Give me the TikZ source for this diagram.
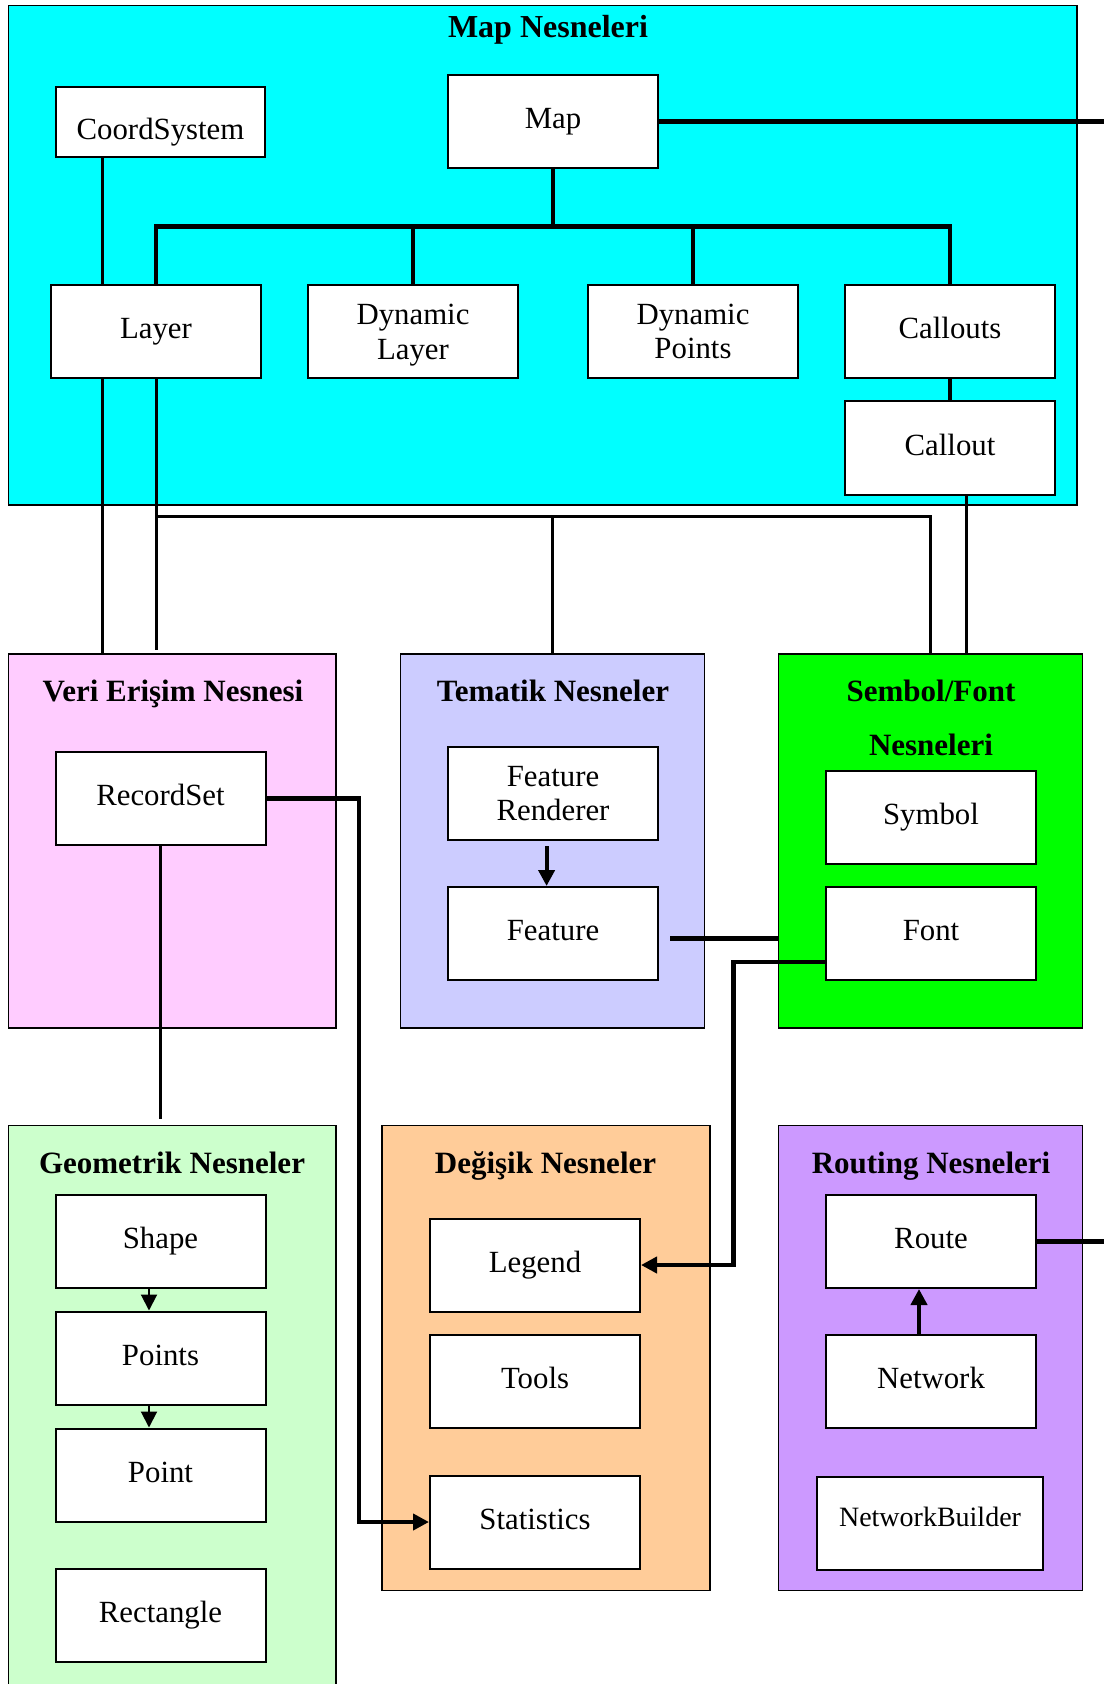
\documentclass[tikz,border=0pt]{standalone}
\usepackage{fontspec}
\setmainfont{Liberation Serif}
\usetikzlibrary{arrows.meta}
\pgfdeclarelayer{back}
\pgfdeclarelayer{conn}
\pgfsetlayers{back,conn,main}
\definecolor{mapc}{HTML}{00FFFF}
\definecolor{veric}{HTML}{FFCCFF}
\definecolor{temc}{HTML}{CCCCFF}
\definecolor{semc}{HTML}{00FF00}
\definecolor{geoc}{HTML}{CCFFCC}
\definecolor{degc}{HTML}{FFCC99}
\definecolor{rouc}{HTML}{CC99FF}
\begin{document}
\begin{tikzpicture}[x=0.5pt,y=-0.5pt,
  box/.style={draw, line width=1pt, fill=white, minimum width=105pt, minimum height=46.5pt,
    align=center, inner sep=0pt, font=\fontsize{15.4}{17.35}\selectfont},
  one/.style={box, text height=10.3pt, text depth=3.3pt},
  grp/.style={draw, line width=0.85pt, inner sep=0pt},
  ttl/.style={font=\fontsize{15.5}{18}\selectfont\bfseries, inner sep=0pt, anchor=base},
  tree/.style={line width=2.4pt},
  thk/.style={line width=2.1pt},
  link/.style={line width=1.5pt},
  slim/.style={line width=1pt},
  arr/.style={-{Triangle[length=8pt,width=8pt]}}]
\useasboundingbox (0,0) rectangle (1104,1684);

% containers
\begin{pgfonlayer}{back}
\fill[white] (0,0) rectangle (1104,1684);
\node[grp, fill=mapc, minimum width=534.2pt, minimum height=249.8pt] (MapG) at (542.8,255.2) {};
\node[grp, fill=veric, minimum width=163.7pt, minimum height=187pt] (Veri) at (172.3,841) {};
\node[grp, fill=temc, minimum width=152pt, minimum height=187pt] (Tem) at (552.5,841) {};
\node[grp, fill=semc, minimum width=152pt, minimum height=187pt] (Sem) at (930.5,841) {};
\node[grp, fill=geoc, minimum width=163.7pt, minimum height=287.25pt] (Geo) at (172.3,1412.75) {};
\node[grp, fill=degc, minimum width=164pt, minimum height=232.5pt] (Deg) at (546,1358) {};
\node[grp, fill=rouc, minimum width=152pt, minimum height=232.5pt] (Rou) at (930.5,1358) {};
\end{pgfonlayer}

% titles
\node[ttl, font=\fontsize{16}{18}\selectfont\bfseries] (tMap) at (548,37.5) {Map Nesneleri};
\node[ttl] (tVeri) at (173,701.5) {Veri Erişim Nesnesi};
\node[ttl] (tTem) at (553,701.5) {Tematik Nesneler};
\node[ttl] (tSem1) at (931,701.5) {Sembol/Font};
\node[ttl] (tSem2) at (931,755) {Nesneleri};
\node[ttl] (tGeo) at (172,1173.3) {Geometrik Nesneler};
\node[ttl] (tDeg) at (545.5,1173.3) {Değişik Nesneler};
\node[ttl] (tRou) at (931,1173.3) {Routing Nesneleri};

% boxes
\node[one, minimum width=104.5pt, minimum height=35pt] (CoordSystem) at (160.5,122) {\raisebox{-5.5pt}{CoordSystem}};
\node[one] (Map) at (553,121.5) {Map};
\node[one] (Layer) at (156,331.5) {Layer};
\node[box] (DynLayer) at (413,331.5) {Dynamic\\\smash{Layer}};
\node[box] (DynPoints) at (693,331.5) {Dynamic\\Points};
\node[one] (Callouts) at (950,331.5) {Callouts};
\node[one] (Callout) at (950,448) {Callout};
\node[one] (RecordSet) at (160.5,798.5) {RecordSet};
\node[box] (FeatRend) at (553,793.5) {Feature\\Renderer};
\node[one] (Feature) at (553,933.5) {Feature};
\node[one] (Symbol) at (931,817) {Symbol};
\node[one] (Font) at (931,933.5) {Font};
\node[one] (Shape) at (160.5,1241.5) {Shape};
\node[one] (Points) at (160.5,1358) {Points};
\node[one] (Point) at (160.5,1475) {Point};
\node[one] (Rectangle) at (160.5,1615) {Rectangle};
\node[one] (Legend) at (535,1265) {Legend};
\node[one] (Tools) at (535,1381.5) {Tools};
\node[one] (Statistics) at (535,1522) {Statistics};
\node[one] (Route) at (931,1241.5) {Route};
\node[one] (Network) at (931,1381.5) {Network};
\node[one, minimum width=113pt, font=\fontsize{14}{16}\selectfont] (NetBuilder) at (930,1523.3) {\raisebox{2.1pt}{NetworkBuilder}};

% connectors
\begin{pgfonlayer}{conn}
\coordinate (bar) at (0,226.6);
\coordinate (redge) at (1104,0);
\coordinate (xA) at (102.5,0);
\coordinate (br) at (0,516.5);
\coordinate (xC) at (966.5,0);
\coordinate (xF) at (733.5,0);
\coordinate (xR) at (358.7,0);
\coordinate (yRS) at (0,1119);
\coordinate (yLay) at (0,650);

\draw[tree] (Map.south) -- (Map.south |- bar);
\draw[tree] (Layer.north) -- (Layer.north |- bar) -- (Callouts.north |- bar) -- (Callouts.north);
\draw[tree] (DynLayer.north) -- (DynLayer.north |- bar);
\draw[tree] (DynPoints.north) -- (DynPoints.north |- bar);
\draw[thk] (Map.east) -- (Map.east -| redge);
\draw[tree] (Callouts.south) -- (Callout.north);

\draw[link] (xA |- CoordSystem.south) -- (xA |- Veri.north);
\draw[link] (Layer.south) -- (Layer.south |- yLay);
\draw[link] (Layer.south |- br) -- (Sem.north |- br) -- (Sem.north);
\draw[link] (Tem.north |- br) -- (Tem.north);
\draw[link] (xC |- Callout.south) -- (xC |- Sem.north);

\coordinate (fs) at ([shift={(5.5pt,-2.5pt)}]Feature.east);
\draw[thk] (fs) -- (fs -| Sem.west);

\coordinate (ff) at ([yshift=-14.25pt]Font.west);
\draw[thk, arr] (ff) -- (xF |- ff) -- (xF |- Legend.east) -- (Legend.east);

\draw[thk, arr] (RecordSet.east) -- (xR |- RecordSet.east) -- (xR |- Statistics.west) -- (Statistics.west);
\draw[link] (RecordSet.south) -- (RecordSet.south |- yRS);

\draw[thk, arr] ([shift={(-3.2pt,-2.5pt)}]FeatRend.south) -- ([xshift=-3.2pt]Feature.north);
\draw[slim, arr] ([xshift=-5.75pt]Shape.south) -- ([xshift=-5.75pt]Points.north);
\draw[slim, arr] ([xshift=-5.75pt]Points.south) -- ([xshift=-5.75pt]Point.north);
\draw[thk, arr] ([xshift=-6pt]Network.north) -- ([xshift=-6pt]Route.south);
\draw[thk] (Route.east) -- (Route.east -| redge);
\end{pgfonlayer}
\end{tikzpicture}
\end{document}
